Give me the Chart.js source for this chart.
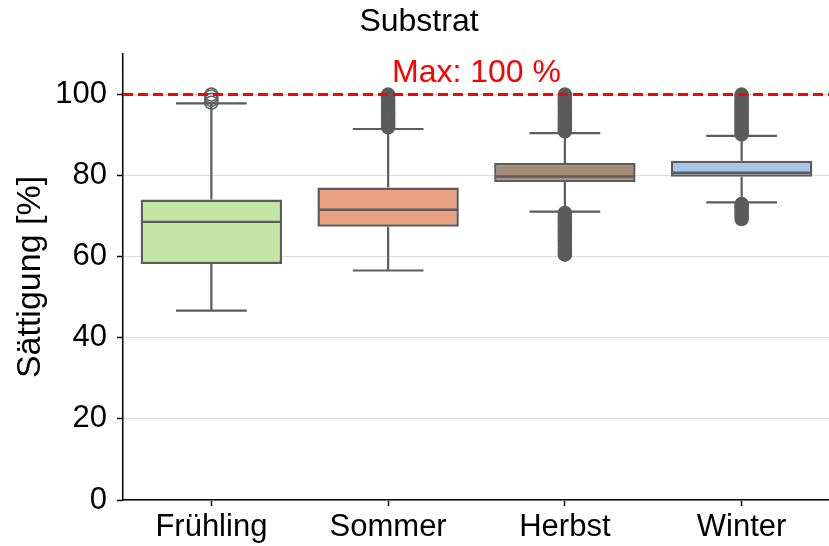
<!DOCTYPE html>
<html lang="de">
<head>
<meta charset="utf-8">
<title>Substrat</title>
<script src="https://cdn.jsdelivr.net/npm/chart.js@4.4.1/dist/chart.umd.min.js"></script>
<style>
  html, body { margin: 0; padding: 0; background: #fff; overflow: hidden; }
  #chart-wrap { width: 838px; height: 546px; }
</style>
</head>
<body>
<div id="chart-wrap"><canvas id="box-chart" width="838" height="546"></canvas></div>
<script>
// Boxplot stats per season
const seasons = ['Frühling', 'Sommer', 'Herbst', 'Winter'];
const q1 = [58.2, 67.4, 78.4, 79.7];
const q3 = [74.1, 77.1, 83.1, 83.7];
const medians = [68.6, 71.6, 79.8, 80.7];
const whiskerLow = [46.7, 56.6, 71.1, 73.4];
const whiskerHigh = [97.8, 91.5, 90.5, 89.8];
const yTicks = [0, 20, 40, 60, 80, 100];
const maxLine = 100;

// Outliers (fliers) per season
const outFruehling = [98.0, 98.7, 99.5, 100.0];
const outSommer = [91.9, 92.4, 92.9, 93.5, 94.0, 94.6, 95.1, 95.7, 96.2, 96.8, 97.3, 97.9, 98.4, 98.9, 99.5, 100.0];
const outHerbst = [60.5, 61.0, 61.6, 62.1, 62.7, 63.2, 63.8, 64.3, 64.9, 65.4, 66.0, 66.5, 67.1, 67.6, 68.2, 68.7, 69.3, 69.8, 70.3, 70.8,
  90.9, 91.4, 92.0, 92.5, 93.1, 93.6, 94.2, 94.7, 95.3, 95.8, 96.4, 96.9, 97.5, 98.0, 98.6, 99.1, 99.6, 100.0];
const outWinter = [69.3, 69.9, 70.4, 71.0, 71.5, 72.1, 72.6, 73.0,
  90.2, 90.7, 91.3, 91.8, 92.4, 92.9, 93.5, 94.0, 94.6, 95.1, 95.7, 96.2, 96.8, 97.3, 97.9, 98.4, 98.9, 99.5, 100.0];

const boxColors = ['#c3e6a5', '#eba283', '#a28e78', '#a6c6e9'];
const lineGray = '#5c5c5c';
const FONT = 'Liberation Sans, Arial, sans-serif';

/**
 * Whiskers + caps go under the fliers, medians and the max line go on top
 */
const boxPlugin = {
  id: 'boxParts',
  beforeDatasetsDraw(chart) {
    const { ctx, scales: { y } } = chart;
    const meta = chart.getDatasetMeta(0);
    ctx.save();
    ctx.strokeStyle = lineGray;
    ctx.lineWidth = 2.2;
    meta.data.forEach((bar, i) => {
      const cx = bar.x;
      const capHalf = bar.width / 4;
      const ends = [[q3[i], whiskerHigh[i]], [q1[i], whiskerLow[i]]];
      ends.forEach(([from, to]) => {
        ctx.beginPath();
        ctx.moveTo(cx, y.getPixelForValue(from));
        ctx.lineTo(cx, y.getPixelForValue(to));
        ctx.moveTo(cx - capHalf, y.getPixelForValue(to));
        ctx.lineTo(cx + capHalf, y.getPixelForValue(to));
        ctx.stroke();
      });
    });
    ctx.restore();
  },
  afterDatasetsDraw(chart) {
    const { ctx, chartArea, scales: { y } } = chart;
    const meta = chart.getDatasetMeta(0);
    ctx.save();
    ctx.strokeStyle = lineGray;
    ctx.lineWidth = 2.4;
    meta.data.forEach((bar, i) => {
      const py = y.getPixelForValue(medians[i]);
      ctx.beginPath();
      ctx.moveTo(bar.x - bar.width / 2 + 1, py);
      ctx.lineTo(bar.x + bar.width / 2 - 1, py);
      ctx.stroke();
    });

    // red max line + label
    const my = y.getPixelForValue(maxLine);
    ctx.strokeStyle = '#ff0000';
    ctx.lineWidth = 3;
    ctx.setLineDash([10, 5]);
    ctx.beginPath();
    ctx.moveTo(chartArea.left, my);
    ctx.lineTo(chartArea.right, my);
    ctx.stroke();
    ctx.setLineDash([]);
    ctx.fillStyle = '#ff0000';
    ctx.font = '32px ' + FONT;
    ctx.textAlign = 'center';
    ctx.textBaseline = 'alphabetic';
    ctx.fillText('Max: ' + maxLine + ' %', (chartArea.left + chartArea.right) / 2, my - 13);
    ctx.restore();
  }
};

function flierSet(name, values, filled) {
  return {
    type: 'line',
    label: name + ' Ausreißer',
    data: values.map(v => ({ x: name, y: v })),
    showLine: false,
    pointRadius: 6.5,
    pointHoverRadius: 6.5,
    pointBorderWidth: 1.5,
    pointBorderColor: lineGray,
    pointBackgroundColor: filled ? lineGray : 'rgba(0,0,0,0)'
  };
}

new Chart(document.getElementById('box-chart'), {
  type: 'bar',
  data: {
    labels: seasons,
    datasets: [
      {
        label: 'IQR',
        data: seasons.map((s, i) => [q1[i], q3[i]]),
        backgroundColor: boxColors,
        borderColor: lineGray,
        borderWidth: 2.5,
        borderSkipped: false,
        barPercentage: 0.8,
        categoryPercentage: 1.0
      },
      flierSet('Frühling', outFruehling, false),
      flierSet('Sommer', outSommer, true),
      flierSet('Herbst', outHerbst, true),
      flierSet('Winter', outWinter, true)
    ]
  },
  options: {
    responsive: false,
    animation: false,
    layout: { padding: 0 },
    scales: {
      x: {
        offset: true,
        afterFit: scale => { scale.height = 46; },
        grid: {
          offset: false,
          drawOnChartArea: false,
          tickLength: 6,
          tickColor: '#000',
          tickWidth: 1.5
        },
        border: { color: '#000', width: 1.5 },
        ticks: {
          color: '#000',
          padding: 3,
          font: { family: FONT, size: 31 }
        }
      },
      y: {
        min: 0,
        max: 110,
        afterBuildTicks: scale => {
          scale.ticks = yTicks.map(v => ({ value: v }));
        },
        afterFit: scale => { scale.width = 123; },
        grid: {
          color: '#dddddd',
          lineWidth: 1,
          tickLength: 6,
          tickColor: '#000',
          tickWidth: 1.5
        },
        border: { color: '#000', width: 1.5 },
        ticks: {
          color: '#000',
          padding: 10,
          font: { family: FONT, size: 31 }
        },
        title: {
          display: true,
          text: 'Sättigung [%]',
          color: '#000',
          padding: { top: 10, bottom: 0 },
          font: { family: FONT, size: 34 }
        }
      }
    },
    plugins: {
      legend: { display: false },
      tooltip: { enabled: false },
      title: {
        display: true,
        text: 'Substrat',
        color: '#000',
        padding: { top: 3, bottom: 12.6 },
        font: { family: FONT, size: 32, weight: 'normal' }
      }
    }
  },
  plugins: [boxPlugin]
});
</script>
</body>
</html>
